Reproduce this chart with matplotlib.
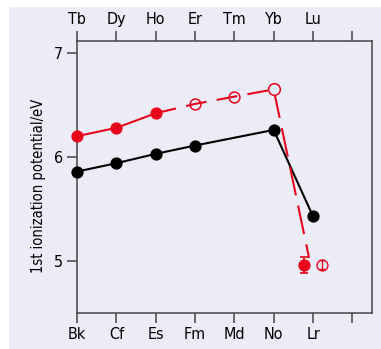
import matplotlib
matplotlib.use("Agg")
import matplotlib.pyplot as plt
from matplotlib.patches import Rectangle
from matplotlib import font_manager as fm

# ---- data ----
bottom_labels = ["Bk", "Cf", "Es", "Fm", "Md", "No", "Lr", ""]
top_labels = ["Tb", "Dy", "Ho", "Er", "Tm", "Yb", "Lu", ""]

# lanthanides (black)
lan_x = [0, 1, 2, 3, 5, 6]
lan_y = [5.86, 5.94, 6.03, 6.11, 6.26, 5.43]

# actinides measured (red filled) and predicted (red open)
act_meas_x = [0, 1, 2]
act_meas_y = [6.20, 6.28, 6.42]
act_pred_x = [3, 4, 5]
act_pred_y = [6.51, 6.58, 6.65]

# Lr: measured (filled, with error) and calculated (open)
lr_meas_x, lr_meas_y, lr_meas_err = 5.77, 4.96, 0.075
lr_calc_x, lr_calc_y, lr_calc_err = 6.22, 4.965, 0.04
lr_line_end = (5.9, 5.03)

RED = "#E8051C"
BG = "#ECECF6"
FRAME = "#444444"

cond = [f for f in fm.fontManager.ttflist
        if 'Condensed' in f.fname or 'Narrow' in f.fname]
if cond:
    fp_file = sorted(cond, key=lambda f: ('Bold' in f.fname or 'Oblique' in f.fname
                                          or 'Italic' in f.fname, f.fname))[0].fname
    FONT = fm.FontProperties(fname=fp_file, size=11.5)
    FONT_L = fm.FontProperties(fname=fp_file, size=10.5)
else:
    FONT = fm.FontProperties(family='DejaVu Sans', size=11)
    FONT_L = fm.FontProperties(family='DejaVu Sans', size=10)

fig = plt.figure(figsize=(3.81, 3.49), dpi=100)
fig.patch.set_facecolor("white")
fig.patches.append(Rectangle((9/381, 0), 1 - 9/381, (349 - 7)/349,
                             transform=fig.transFigure, facecolor=BG,
                             edgecolor="none", zorder=-10))

ax = fig.add_axes([77/381, 1 - 313/349, (372 - 77)/381, (313 - 41)/349])
ax.set_facecolor(BG)
ax.set_xlim(0, 7.5)
ax.set_ylim(4.5, 7.115)

lw = 1.5
ms = 7.8

ax.plot(lan_x, lan_y, color="black", lw=lw, marker="o", ms=ms, zorder=3,
        clip_on=False)

ax.plot(act_meas_x, act_meas_y, color=RED, lw=lw, marker="o", ms=ms,
        zorder=4, clip_on=False)
ax.plot([act_meas_x[-1]] + act_pred_x, [act_meas_y[-1]] + act_pred_y,
        color=RED, lw=lw, ls=(0, (10, 5)), zorder=4)
ax.plot([act_pred_x[-1], lr_line_end[0]], [act_pred_y[-1], lr_line_end[1]],
        color=RED, lw=lw, ls=(0, (14, 5)), zorder=4)
ax.plot(act_pred_x[:-1], act_pred_y[:-1], ls="none", marker="o", ms=ms,
        mfc="none", mec=RED, mew=1.1, zorder=5)
ax.plot(act_pred_x[-1:], act_pred_y[-1:], ls="none", marker="o", ms=ms + 0.6,
        mfc=BG, mec=RED, mew=1.1, zorder=5)

ax.errorbar([lr_meas_x], [lr_meas_y], yerr=[lr_meas_err], color=RED,
            marker="o", ms=ms, capsize=3, elinewidth=1.2, capthick=1.2,
            zorder=6)
ax.errorbar([lr_calc_x], [lr_calc_y], yerr=[lr_calc_err], color=RED,
            marker="o", ms=ms, mfc="none", mec=RED, mew=1.0, capsize=2,
            elinewidth=1.0, capthick=1.0, zorder=6)

for s in ax.spines.values():
    s.set_color(FRAME)
    s.set_linewidth(1.1)

xt = list(range(len(bottom_labels)))
ax.set_xticks(xt)
ax.set_xticklabels(bottom_labels, fontproperties=FONT)
ax.set_yticks([5, 6, 7])
ax.set_yticklabels(["5", "6", "7"], fontproperties=FONT)
ax.tick_params(axis="both", direction="out", length=7, width=1.1,
               color=FRAME, pad=3)
ax.set_ylabel("1st ionization potential/eV", fontproperties=FONT_L)
ax.yaxis.set_label_coords(-0.105, 0.469)

ax2 = ax.twiny()
ax2.set_xlim(ax.get_xlim())
ax2.set_xticks(xt)
ax2.set_xticklabels(top_labels, fontproperties=FONT)
ax2.tick_params(axis="x", direction="out", length=7, width=1.1,
                color=FRAME, pad=3)
for s in ax2.spines.values():
    s.set_visible(False)

fig.savefig("out.png", dpi=100, facecolor=fig.get_facecolor())
